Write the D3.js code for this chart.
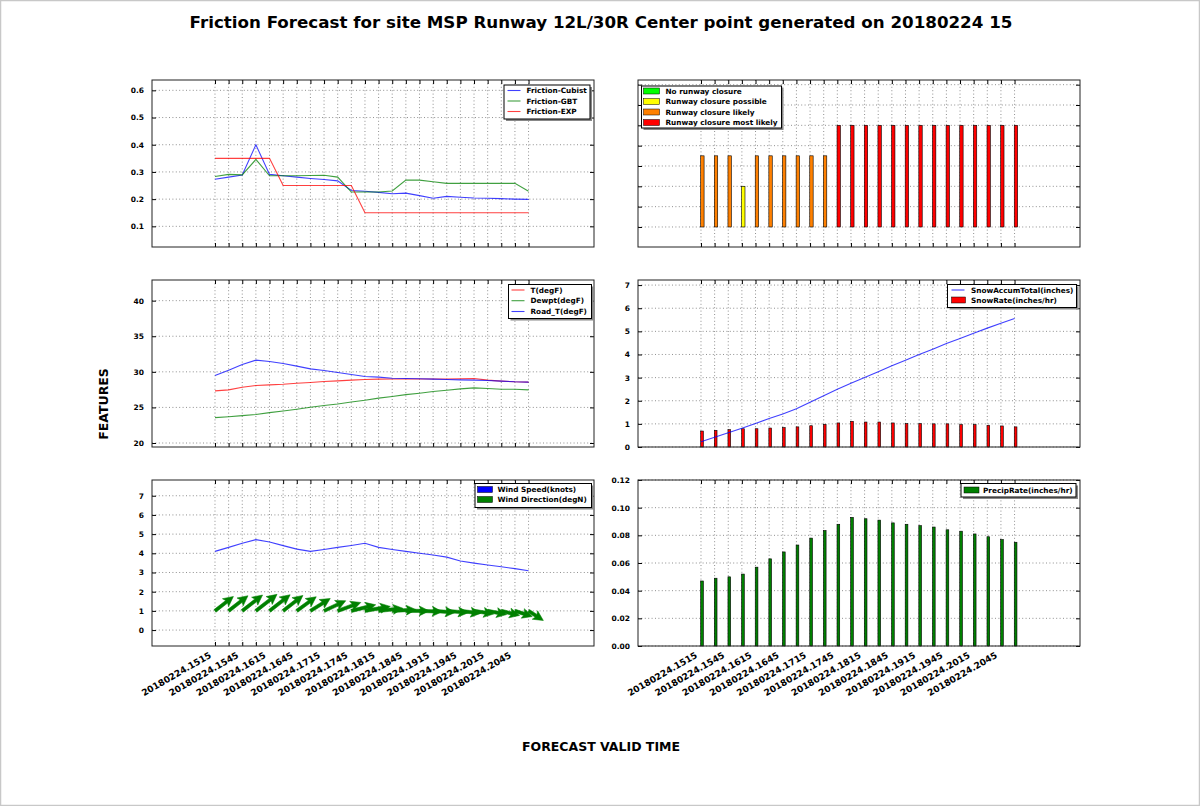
<!DOCTYPE html>
<html><head><meta charset="utf-8">
<script src="https://cdn.jsdelivr.net/npm/d3@7"></script>
<style>
body{margin:0;background:#fff}
svg{display:block}
text{font-family:"DejaVu Sans",sans-serif;font-weight:bold;fill:#000}
</style>
</head><body>
<svg id="c" width="1200" height="806"></svg>
<script>
// ---------- data ----------
const times = ["20180224.1515","20180224.1530","20180224.1545","20180224.1600","20180224.1615","20180224.1630",
  "20180224.1645","20180224.1700","20180224.1715","20180224.1730","20180224.1745","20180224.1800",
  "20180224.1815","20180224.1830","20180224.1845","20180224.1900","20180224.1915","20180224.1930",
  "20180224.1945","20180224.2000","20180224.2015","20180224.2030","20180224.2045","20180224.2100"];
const frictionCubist = [0.273,0.281,0.289,0.400,0.291,0.286,0.281,0.276,0.272,0.267,0.232,0.229,0.225,0.220,0.222,0.213,0.203,0.210,0.207,0.204,0.203,0.202,0.200,0.199];
const frictionGBT    = [0.283,0.291,0.289,0.346,0.286,0.286,0.286,0.287,0.288,0.281,0.226,0.226,0.226,0.230,0.270,0.270,0.264,0.258,0.258,0.258,0.258,0.258,0.258,0.229];
const frictionEXP    = [0.35,0.35,0.35,0.35,0.35,0.25,0.25,0.25,0.25,0.25,0.25,0.15,0.15,0.15,0.15,0.15,0.15,0.15,0.15,0.15,0.15,0.15,0.15,0.15];
const closureCategory = ["likely","likely","likely","possible","likely","likely","likely","likely","likely","likely",
  "most","most","most","most","most","most","most","most","most","most","most","most","most","most"];
const closureValue = [3.5,3.5,3.5,2,3.5,3.5,3.5,3.5,3.5,3.5,5,5,5,5,5,5,5,5,5,5,5,5,5,5];
const closureNames = ["No runway closure","Runway closure possible","Runway closure likely","Runway closure most likely"];
const tempF   = [27.32,27.46,27.84,28.08,28.17,28.26,28.40,28.50,28.64,28.73,28.83,28.92,28.97,29.00,29.00,29.00,29.00,29.00,29.03,29.06,28.83,28.70,28.60,28.55];
const dewptF  = [23.57,23.70,23.85,24.00,24.27,24.50,24.74,25.02,25.26,25.49,25.77,26.00,26.30,26.53,26.80,27.00,27.23,27.42,27.60,27.75,27.65,27.56,27.56,27.46];
const roadTF  = [29.48,30.23,31.03,31.64,31.46,31.17,30.80,30.42,30.19,29.90,29.62,29.34,29.25,29.10,29.06,29.02,28.97,28.92,28.87,28.83,28.78,28.70,28.60,28.55];
const snowAccum = [0.23,0.42,0.62,0.81,1.02,1.23,1.43,1.65,1.93,2.22,2.50,2.76,3.00,3.25,3.51,3.75,4.00,4.23,4.47,4.69,4.92,5.14,5.35,5.56];
const snowRate  = [0.69,0.72,0.75,0.79,0.79,0.82,0.84,0.87,0.92,0.98,1.04,1.11,1.08,1.08,1.04,1.01,1.01,1.00,1.00,0.97,0.97,0.94,0.91,0.87];
const windSpeed = [4.10,4.31,4.52,4.71,4.59,4.40,4.22,4.10,4.20,4.31,4.41,4.52,4.31,4.20,4.10,4.00,3.91,3.80,3.60,3.49,3.39,3.30,3.20,3.09];
const windDir   = [232,232,232,232,232,232,234,238,245,250,256,260,264,267,270,272,274,275,277,279,281,284,288,303];
const precipRate = [0.047,0.049,0.050,0.052,0.057,0.063,0.068,0.073,0.078,0.0835,0.088,0.093,0.092,0.091,0.089,0.088,0.087,0.086,0.084,0.083,0.081,0.079,0.077,0.075];
const tickFriction = [0.1,0.2,0.3,0.4,0.5,0.6];
const tickClosure = [0,1,2,3,4,5,6,7];
const tickTemp = [20,25,30,35,40];
const tickSnow = [0,1,2,3,4,5,6,7];
const tickWind = [0,1,2,3,4,5,6,7];
const tickPrecip = [0,0.02,0.04,0.06,0.08,0.10,0.12];

// ---------- layout ----------
const svg = d3.select("#c");
const W = 1200, H = 806;
svg.append("rect").attr("x",0.5).attr("y",0.5).attr("width",W-1).attr("height",H-1)
  .attr("fill","#fff").attr("stroke","#c8c8c8").attr("stroke-width",1.5);

const colors = {b:"#0000ff", g:"#008000", r:"#ff0000"};
const closureColors = {none:"#00ff00", possible:"#ffff00", likely:"#ff8000", most:"#ff0000"};
const idx = d3.range(times.length);
const colX = [152, 638], colW = 442;
const rowY = [80, 280, 480], rowH = [167, 167, 166];
const LEGEND_FONT = "7.3px";

function makePanel(col, row, yDomain, yTicks, yFmt, showYLabels, showXLabels){
  const x0 = colX[col], y0 = rowY[row], w = colW, h = rowH[row];
  const x = d3.scaleLinear().domain([-4.62, 27.8]).range([x0, x0+w]);
  const y = d3.scaleLinear().domain(yDomain).range([y0+h, y0]);
  const g = svg.append("g");
  g.append("rect").attr("x",x0).attr("y",y0).attr("width",w).attr("height",h).attr("fill","#fff");
  const grid = g.append("g").attr("stroke","#444").attr("stroke-width",0.6).attr("stroke-dasharray","1,2.4");
  idx.forEach(i=>grid.append("line").attr("x1",x(i)).attr("x2",x(i)).attr("y1",y0).attr("y2",y0+h));
  yTicks.forEach(t=>grid.append("line").attr("x1",x0).attr("x2",x0+w).attr("y1",y(t)).attr("y2",y(t)));
  const ax = d3.axisLeft(y).tickValues(yTicks).tickSize(-4).tickPadding(8).tickFormat(showYLabels? yFmt : ()=>"");
  const ga = g.append("g").attr("transform",`translate(${x0},0)`).call(ax);
  ga.select(".domain").remove();
  ga.selectAll("text").style("font-size","7.5px").style("font-family","DejaVu Sans").style("font-weight","bold");
  const gr = g.append("g").attr("transform",`translate(${x0+w},0)`).call(d3.axisRight(y).tickValues(yTicks).tickSize(-4).tickFormat(""));
  gr.select(".domain").remove();
  const gb = g.append("g").attr("transform",`translate(0,${y0+h})`).call(d3.axisBottom(x).tickValues(idx).tickSize(-4).tickFormat(""));
  gb.select(".domain").remove();
  const gt = g.append("g").attr("transform",`translate(0,${y0})`).call(d3.axisTop(x).tickValues(idx).tickSize(-4).tickFormat(""));
  gt.select(".domain").remove();
  if(showXLabels){
    idx.filter(i=>i%2===0).forEach(i=>{
      g.append("text").attr("text-anchor","end")
        .attr("transform",`translate(${x(i)-3},${y0+h+11}) rotate(-30)`)
        .style("font-size","9px").text(times[i]);
    });
  }
  const plot = svg.append("g");
  const frame = svg.append("g");
  frame.append("rect").attr("x",x0).attr("y",y0).attr("width",w).attr("height",h)
    .attr("fill","none").attr("stroke","#222").attr("stroke-width",1);
  return {x,y,plot,frame,x0,y0,w,h};
}

function line(p, vals, color){
  p.plot.append("path").datum(vals)
    .attr("d", d3.line().x((d,i)=>p.x(i)).y(d=>p.y(d)))
    .attr("fill","none").attr("stroke",color).attr("stroke-width",1.1).attr("stroke-opacity",0.75);
}
function bars(p, vals, fill, bw){
  p.plot.selectAll(null).data(vals).enter().append("rect")
    .attr("x",(d,i)=>p.x(i)-0.3).attr("width",bw)
    .attr("y",d=>p.y(d)).attr("height",d=>p.y(0)-p.y(d))
    .attr("fill",typeof fill==="function"?fill:()=>fill).attr("stroke","#000").attr("stroke-width",0.6);
}
function legend(p, bx, by, bw, bh, items, sampleX0, textX, rowYs){
  const g = p.frame.append("g");
  g.append("rect").attr("x",bx+2).attr("y",by+2).attr("width",bw).attr("height",bh).attr("fill","#888");
  g.append("rect").attr("x",bx).attr("y",by).attr("width",bw).attr("height",bh).attr("fill","#fff").attr("stroke","#000").attr("stroke-width",1);
  items.forEach((it,k)=>{
    const yy = rowYs[k];
    if(it.type==="line"){
      g.append("line").attr("x1",sampleX0).attr("x2",sampleX0+13).attr("y1",yy).attr("y2",yy)
        .attr("stroke",it.color).attr("stroke-width",1.1).attr("stroke-opacity",0.75);
    } else {
      g.append("rect").attr("x",sampleX0).attr("y",yy-3).attr("width",it.pw||15).attr("height",6)
        .attr("fill",it.color).attr("stroke","#000").attr("stroke-width",0.5);
    }
    g.append("text").attr("x",textX).attr("y",yy+2.7).style("font-size",LEGEND_FONT).text(it.label);
  });
}

// Panel 1: friction
const p1 = makePanel(0,0,[0.024,0.638],tickFriction,d3.format(".1f"),true,false);
line(p1, frictionCubist, colors.b);
line(p1, frictionGBT, colors.g);
line(p1, frictionEXP, colors.r);
legend(p1, 504, 85, 86, 34, [
  {type:"line",color:colors.b,label:"Friction-Cubist"},
  {type:"line",color:colors.g,label:"Friction-GBT"},
  {type:"line",color:colors.r,label:"Friction-EXP"}], 507.5, 526.5, [90.5,101,111.5]);

// Panel 2: closure
const p2 = makePanel(1,0,[-0.985,7.23],tickClosure,d3.format("d"),false,false);
bars(p2, closureValue, (d,i)=>closureColors[closureCategory[i]], 3.4);
legend(p2, 641.5, 86, 140, 42, [
  {type:"rect",color:closureColors.none,label:closureNames[0],pw:16},
  {type:"rect",color:closureColors.possible,label:closureNames[1],pw:16},
  {type:"rect",color:closureColors.likely,label:closureNames[2],pw:16},
  {type:"rect",color:closureColors.most,label:closureNames[3],pw:16}], 643.5, 665.5, [91,101.5,112,122.5]);

// Panel 3: temperatures
const p3 = makePanel(0,1,[19.44,42.9],tickTemp,d3.format("d"),true,false);
line(p3, tempF, colors.r);
line(p3, dewptF, colors.g);
line(p3, roadTF, colors.b);
legend(p3, 508.5, 284.5, 83, 34, [
  {type:"line",color:colors.r,label:"T(degF)"},
  {type:"line",color:colors.g,label:"Dewpt(degF)"},
  {type:"line",color:colors.b,label:"Road_T(degF)"}], 511.5, 530.5, [290,300.7,311.5]);

// Panel 4: snow
const p4 = makePanel(1,1,[0,7.22],tickSnow,d3.format("d"),true,false);
bars(p4, snowRate, colors.r, 2.7);
line(p4, snowAccum, colors.b);
legend(p4, 947.5, 284.5, 129, 23, [
  {type:"line",color:colors.b,label:"SnowAccumTotal(inches)"},
  {type:"rect",color:colors.r,label:"SnowRate(inches/hr)",pw:14}], 951.5, 971, [290,300]);

// Panel 5: wind
const p5 = makePanel(0,2,[-0.83,7.82],tickWind,d3.format("d"),true,true);
line(p5, windSpeed, colors.b);
const pxPerKnot = 5.7;
windDir.forEach((dir,i)=>{
  const rad = dir*Math.PI/180;
  const u = -Math.sin(rad)*windSpeed[i], v = -Math.cos(rad)*windSpeed[i];
  const L = Math.hypot(u,v)*pxPerKnot;
  const ang = Math.atan2(-v,u)*180/Math.PI;
  const sw = 3.2, hw = 10, hl = 10, hal = 8.6;
  const pts = [[0,-sw/2],[L-hal,-sw/2],[L-hl,-hw/2],[L,0],[L-hl,hw/2],[L-hal,sw/2],[0,sw/2]];
  p5.plot.append("polygon").attr("points",pts.map(q=>q.join(",")).join(" "))
    .attr("transform",`translate(${p5.x(i)},${p5.y(1)}) rotate(${ang})`)
    .attr("fill",colors.g).attr("stroke",colors.g).attr("stroke-width",0.5);
});
legend(p5, 475, 483.5, 116.5, 24, [
  {type:"rect",color:colors.b,label:"Wind Speed(knots)",pw:15},
  {type:"rect",color:colors.g,label:"Wind Direction(degN)",pw:15}], 477.5, 497.5, [489.5,499.5]);

// Panel 6: precip
const p6 = makePanel(1,2,[0,0.12],tickPrecip,d3.format(".2f"),true,true);
bars(p6, precipRate, colors.g, 2.7);
legend(p6, 961, 483.5, 115, 13.5, [
  {type:"rect",color:colors.g,label:"PrecipRate(inches/hr)",pw:15}], 964, 983, [490]);

// titles
svg.append("text").attr("x",601).attr("y",28).attr("text-anchor","middle").style("font-size","16.7px")
  .text("Friction Forecast for site MSP Runway 12L/30R Center point generated on 20180224 15");
svg.append("text").attr("transform","translate(108,404) rotate(-90)").attr("text-anchor","middle")
  .style("font-size","12.5px").text("FEATURES");
svg.append("text").attr("x",601).attr("y",751).attr("text-anchor","middle").style("font-size","12.5px")
  .text("FORECAST VALID TIME");
</script>
</body></html>
